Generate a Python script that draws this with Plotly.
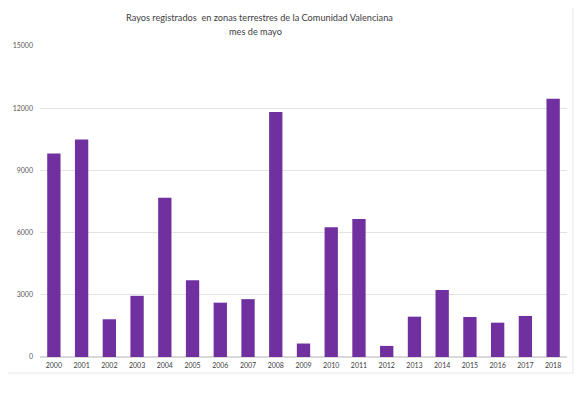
import plotly.graph_objects as go

years = ["2000", "2001", "2002", "2003", "2004", "2005", "2006", "2007", "2008", "2009",
         "2010", "2011", "2012", "2013", "2014", "2015", "2016", "2017", "2018"]
rayos = [9810, 10490, 1820, 2950, 7680, 3700, 2620, 2790, 11820, 650,
         6260, 6650, 535, 1945, 3230, 1930, 1655, 1980, 12450]
y_ticks = [0, 3000, 6000, 9000, 12000, 15000]

# page offset (browser body margin)
OFF = 8
W, H = 586, 394
# target plot area in screen pixels
PL, PR, PT, PB = 40, 567, 46, 357
ml = PL - OFF
mt = PT - OFF
mr = W - (PR - OFF)
mb = H - (PB - OFF)

fig = go.Figure(go.Bar(x=years, y=rayos, marker=dict(color="#7030A0", line=dict(width=0)),
                       width=0.48))

fig.update_layout(
    width=W, height=H,
    margin=dict(l=ml, r=mr, t=mt, b=mb, autoexpand=False),
    paper_bgcolor="white", plot_bgcolor="white",
    font=dict(family="Lato, Carlito, Liberation Sans, sans-serif", color="#595959"),
    showlegend=False,
    bargap=0.52,
)
fig.update_yaxes(range=[0, 15000], tickvals=y_ticks, ticktext=[str(v) for v in y_ticks],
                 showgrid=True, gridcolor="#e3e3e3", gridwidth=1, zeroline=True,
                 zerolinecolor="#d9d9d9", tickfont=dict(size=7, color="#595959"),
                 showline=False, ticks="", ticklabelstandoff=6, automargin=False)
fig.update_xaxes(tickfont=dict(size=7, color="#404040"), showline=True, linecolor="#d9d9d9",
                 ticks="", showgrid=False, ticklabelstandoff=2, automargin=False)

pw = PR - PL
ph = PB - PT
def px_x(x):
    return (x - PL) / pw
def px_y(y):
    return (PB - y) / ph

fig.add_annotation(xref="paper", yref="paper", x=px_x(259), y=px_y(17),
                   text="Rayos registrados  en zonas terrestres de la Comunidad Valenciana",
                   showarrow=False, font=dict(size=9.2, color="#404040"), xanchor="center", yanchor="middle")
fig.add_annotation(xref="paper", yref="paper", x=px_x(255), y=px_y(31),
                   text="mes de mayo",
                   showarrow=False, font=dict(size=9.2, color="#404040"), xanchor="center", yanchor="middle")

fig.add_shape(type="rect", xref="paper", yref="paper",
              x0=px_x(3), x1=px_x(573), y0=px_y(373), y1=px_y(5),
              line=dict(color="#e6e6e6", width=1), fillcolor="rgba(0,0,0,0)", layer="below")

fig.write_html("out.html")
